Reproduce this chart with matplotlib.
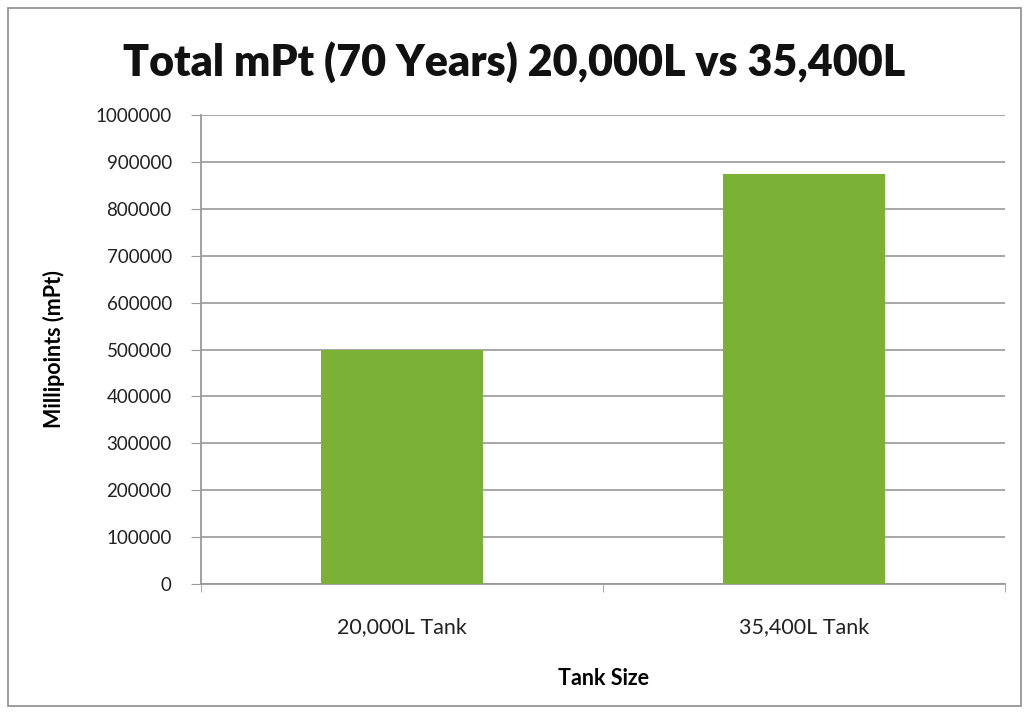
import matplotlib.pyplot as plt
from matplotlib.patches import Rectangle

tanks = ["20,000L Tank", "35,400L Tank"]
total_mpt = [500000, 875000]
y_ticks = list(range(0, 1000001, 100000))

plt.rcParams['font.family'] = ['Lato', 'DejaVu Sans']

fig = plt.figure(figsize=(10.29, 7.16), dpi=100)
ax = fig.add_axes([201 / 1029, 1 - 584 / 716, 804 / 1029, 469 / 716])

pos = [0.5, 1.5]
ax.bar(pos, total_mpt, width=0.405, color="#7bb135", zorder=3)

ax.set_xlim(0, 2)
ax.set_ylim(0, 1000000)
ax.set_yticks(y_ticks)
ax.set_yticklabels([str(v) for v in y_ticks], fontsize=13.5, color="#222222")
ax.set_xticks(pos)
ax.set_xticklabels(tanks, fontsize=15.5, color="#222222")
ax.tick_params(axis="x", length=0, pad=24)
ax.tick_params(axis="y", length=7, color="#999999", pad=14)
# category boundary ticks on the x axis
ax.set_xticks([0, 1, 2], minor=True)
ax.tick_params(axis="x", which="minor", length=6, color="#999999", direction="out")

ax.grid(axis="y", color="#a0a0a0", linewidth=1.3, zorder=0)
for side in ("top", "right"):
    ax.spines[side].set_visible(False)
for side in ("left", "bottom"):
    ax.spines[side].set_color("#999999")
    ax.spines[side].set_linewidth(1.3)

ax.set_ylabel("Millipoints (mPt)", fontsize=15.5, fontweight="bold", labelpad=22)
ax.set_xlabel("Tank Size", fontsize=15.5, fontweight="bold", labelpad=22)

fig.text(0.5, 1 - 62 / 716, "Total mPt (70 Years) 20,000L vs 35,400L",
         ha="center", va="center", fontsize=31, fontweight="heavy", color="#111111")

# chart frame
fig.patches.append(Rectangle((8 / 1029, 10 / 716), 1 - 16 / 1029, 1 - 18 / 716,
                             transform=fig.transFigure, fill=False,
                             edgecolor="#8c8c8c", linewidth=1.2))

fig.savefig("out.png", dpi=100)
